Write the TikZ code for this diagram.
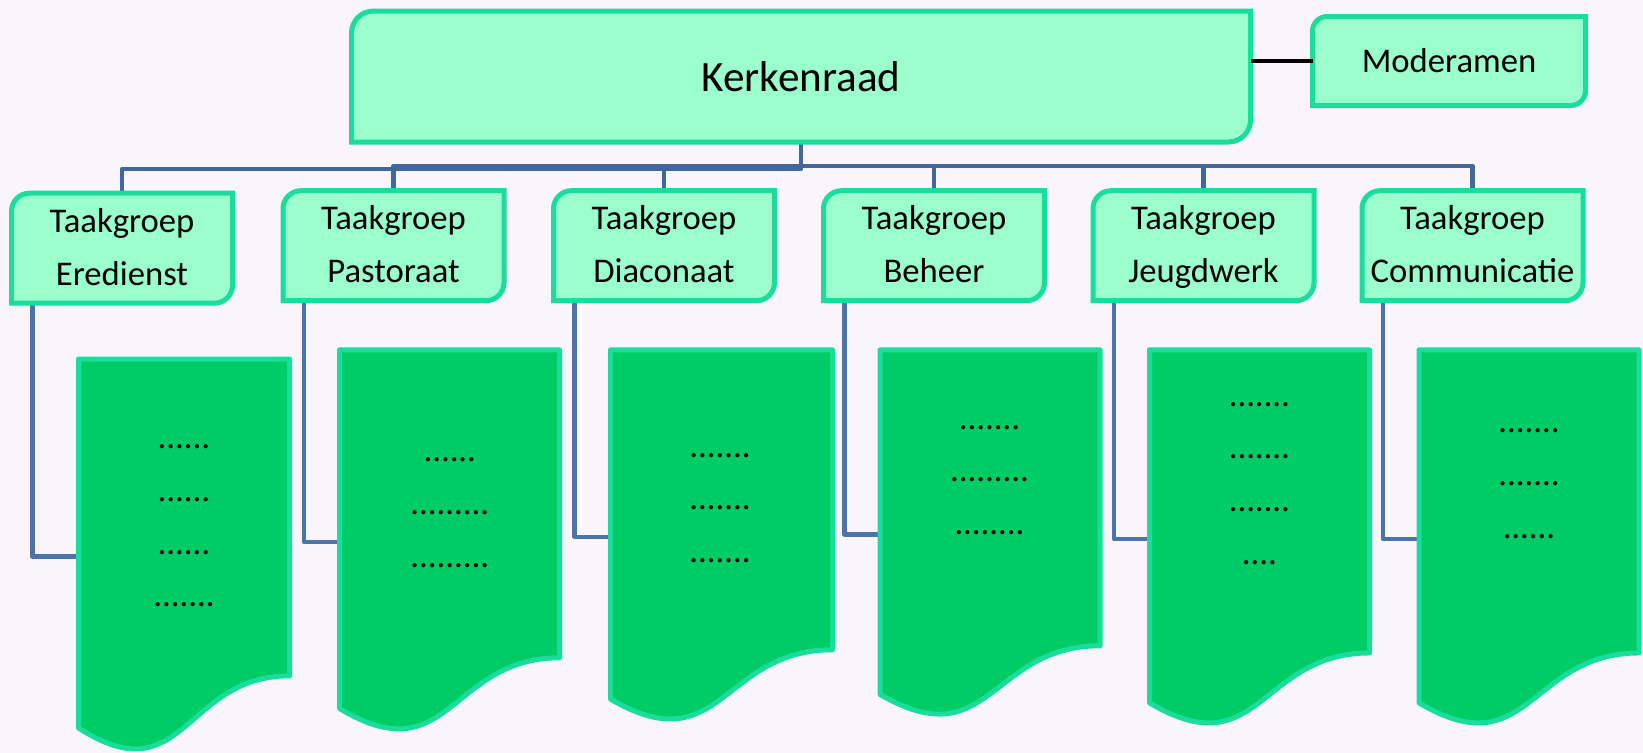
\documentclass[tikz,border=0pt]{standalone}
\usepackage{fontspec}
\setmainfont{Carlito}
\usetikzlibrary{calc}
\definecolor{bgc}{HTML}{F9F5FA}
\definecolor{edgec}{HTML}{1ADC9B}
\definecolor{lightc}{HTML}{9BFFCD}
\definecolor{docc}{HTML}{00CC66}
\definecolor{busc}{HTML}{41679C}
\definecolor{linkc}{HTML}{4A74AE}
\pgfdeclarelayer{bg}
\pgfdeclarelayer{conn}
\pgfdeclarelayer{shapes}
\pgfsetlayers{bg,conn,shapes,main}
\tikzset{
  holder/.style={inner sep=0pt, outer sep=0pt, align=center},
  bigfont/.style={font=\fontsize{32.4}{38}\selectfont},
  smallfont/.style={font=\fontsize{26}{39.5}\selectfont},
  tgsize/.style={minimum width=165.75pt, minimum height=82.5pt},
  boxpaint/.style={draw=edgec, fill=lightc, line width=3.75pt},
  docpaint/.style={draw=edgec, fill=docc, line width=3.75pt, line join=round},
  bus/.style={draw=busc, line width=3.4pt, line join=round},
  link/.style={draw=linkc, line width=3.4pt, line join=round},
  modlink/.style={draw=black, line width=3pt},
}
\newcommand\diagrect[2]{%
  \path[boxpaint] (#1.south west) -- ([yshift=-#2]#1.north west)
    arc[start angle=180, end angle=90, radius=#2] -- (#1.north east)
    -- ([yshift=#2]#1.south east)
    arc[start angle=0, end angle=-90, radius=#2] -- cycle;}
\newcommand\docshape[1]{%
  \path[docpaint] (#1.north west) -- (#1.north east)
    -- ($(#1.north east)!0.802!(#1.south east)$)
    .. controls ($(#1.north)!0.802!(#1.south)$) and ($(#1.north)!1.107!(#1.south)$)
    .. ($(#1.north west)!0.934!(#1.south west)$) -- cycle;}
\begin{document}
\begin{tikzpicture}[x=0.75pt, y=0.75pt]
\useasboundingbox (0,0) rectangle (1643,-753);
\begin{pgfonlayer}{bg}
  \fill[bgc] (0,0) rectangle (1643,-753);
\end{pgfonlayer}

% top level
\node[holder, bigfont, minimum width=674.25pt, minimum height=98.25pt] (k) at (801,-76.5) {Kerkenraad};
\node[holder, smallfont, minimum width=204.75pt, minimum height=66.75pt] (m) at (1449,-61) {Moderamen};

% task groups
\node[holder, smallfont, tgsize] (t1) at (122,-248.2) {\strut Taakgroep\\\strut Eredienst};
\node[holder, smallfont, tgsize] (t2) at (393.5,-245.7) {\strut Taakgroep\\\strut Pastoraat};
\node[holder, smallfont, tgsize] (t3) at (664,-245.7) {\strut Taakgroep\\\strut Diaconaat};
\node[holder, smallfont, tgsize] (t4) at (934,-245.7) {\strut Taakgroep\\\strut Beheer};
\node[holder, smallfont, tgsize] (t5) at (1203.5,-245.7) {\strut Taakgroep\\\strut Jeugdwerk};
\node[holder, smallfont, tgsize] (t6) at (1472.5,-245.7) {\strut Taakgroep\\\strut Communicatie};

% document frames
\node[holder, anchor=north west, minimum width=158.25pt, minimum height=296.25pt] (d1) at (78.5,-359) {};
\node[holder, anchor=north west, minimum width=165pt, minimum height=288pt] (d2) at (339.5,-349.8) {};
\node[holder, anchor=north west, minimum width=166.5pt, minimum height=280.5pt] (d3) at (610.5,-349.8) {};
\node[holder, anchor=north west, minimum width=165pt, minimum height=276.75pt] (d4) at (880,-349.8) {};
\node[holder, anchor=north west, minimum width=165pt, minimum height=283.5pt] (d5) at (1149.5,-349.8) {};
\node[holder, anchor=north west, minimum width=165pt, minimum height=283.5pt] (d6) at (1419,-349.8) {};

% document texts
\node[holder, smallfont] (d1t) at (184,-517.3) {\strut......\\\strut......\\\strut......\\\strut.......};
\node[holder, smallfont] (d2t) at (449.8,-503.8) {\strut......\\\strut.........\\\strut.........};
\node[holder, smallfont] (d3t) at (720,-499.4) {\strut.......\\\strut.......\\\strut.......};
\node[holder, smallfont] (d4t) at (989.5,-471.3) {\strut.......\\\strut.........\\\strut........};
\node[holder, smallfont] (d5t) at (1259.4,-474.5) {\strut.......\\\strut.......\\\strut.......\\\strut....};
\node[holder, smallfont] (d6t) at (1529,-475) {\strut.......\\\strut.......\\\strut......};

\begin{pgfonlayer}{shapes}
  \diagrect{k}{16.5pt}
  \diagrect{m}{11pt}
  \foreach \i in {1,...,6}{\diagrect{t\i}{13.5pt}}
  \foreach \i in {1,...,6}{\docshape{d\i}}
\end{pgfonlayer}

\begin{pgfonlayer}{conn}
  \draw[bus] (k.south) -- ++(0,-27) -| (t1.north);
  \foreach \i in {2,...,6}{\draw[bus] (k.south) -- ++(0,-24) -| (t\i.north);}
  \foreach \i in {1,...,6}{\draw[link] ([xshift=15.75pt]t\i.south west) |- (d\i.west);}
\end{pgfonlayer}

\draw[modlink] (m.west) -- (m.west -| k.east);
\end{tikzpicture}
\end{document}
